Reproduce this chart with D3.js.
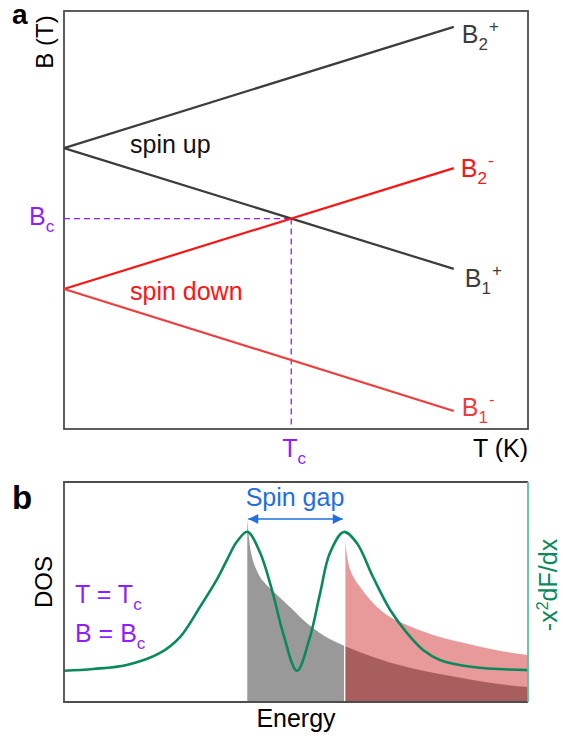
<!DOCTYPE html>
<meta charset="utf-8">
<head>
<title>spin gap</title>
<script src="https://d3js.org/d3.v7.min.js"></script>
<style>
  body { margin: 0; background: #fff; }
  text { font-family: "Liberation Sans", Arial, sans-serif; }
</style>
</head>

<div id="chart"></div>

<script>
  // ---- panel a : B(T) lines (arbitrary units) ----
  var tEnds   = [0, 8.4];
  var b2plus  = [6.72, 9.62];
  var b1plus  = [6.72, 3.83];
  var b2minus = [3.35, 6.24];
  var b1minus = [3.35, 0.43];

  // ---- panel b : DOS + thermal kernel (arbitrary units) ----
  var gapEdges = [-1.05, 1.05];
  var greenE = [-5, -4.37, -3.65, -2.93, -2.5, -2.07, -1.71, -1.49, -1.28, -1.05, -0.78, -0.5, -0.28, 0.02, 0.3, 0.52, 0.73, 1.03, 1.31, 1.66, 2.03, 2.39, 2.74, 3.1, 3.81, 5];
  var greenV = [0.142, 0.15, 0.168, 0.223, 0.295, 0.432, 0.555, 0.645, 0.727, 0.774, 0.682, 0.495, 0.314, 0.142, 0.295, 0.495, 0.677, 0.773, 0.723, 0.568, 0.418, 0.314, 0.236, 0.191, 0.159, 0.145];
  var grayE = [-1.05, -1.0, -0.93, -0.85, -0.78, -0.65, -0.5, -0.13, 0.23, 0.58, 1.05, 1.66, 2.39, 3.1, 3.81, 4.55, 5];
  var grayV = [0.83, 0.72, 0.645, 0.6, 0.57, 0.535, 0.505, 0.432, 0.359, 0.305, 0.255, 0.205, 0.159, 0.127, 0.1, 0.077, 0.068];
  var pinkE = [1.05, 1.12, 1.18, 1.26, 1.39, 1.66, 2.03, 2.39, 3.1, 3.81, 4.54, 5];
  var pinkV = [0.745, 0.64, 0.595, 0.56, 0.52, 0.45, 0.386, 0.35, 0.295, 0.259, 0.227, 0.214];

  var purple = "#8f1fff";
  var red = "#ff1414";
  var dark = "#3d3d3d";

  var svg = d3.select("#chart")
    .append("svg")
      .attr("width", 563)
      .attr("height", 740);

  // sub / superscript label helper
  function addLabel(g, x, y, base, sub, sup, color, anchor) {
    var t = g.append("text")
      .attr("x", x)
      .attr("y", y)
      .attr("text-anchor", anchor || "start")
      .style("font-size", "25px")
      .style("fill", color);
    t.append("tspan").text(base);
    if (sub) t.append("tspan").attr("dy", 7).style("font-size", "17px").text(sub);
    if (sup) t.append("tspan").attr("dy", sub ? -18 : -11).attr("dx", 1).style("font-size", "17px").text(sup);
    return t;
  }

  // ================= panel a =================
  var xa = d3.scaleLinear().domain([0, 10]).range([64, 528]);
  var ya = d3.scaleLinear().domain([0, 10]).range([429, 11]);

  var ga = svg.append("g");

  // frame
  ga.append("rect")
    .attr("x", xa(0)).attr("y", ya(10))
    .attr("width", xa(10) - xa(0)).attr("height", ya(0) - ya(10))
    .style("fill", "none").style("stroke", "#4d4d4d").style("stroke-width", 1.8);

  // crossing of B1+ and B2-  -> (Tc, Bc)
  var s1 = (b1plus[1] - b1plus[0]) / (tEnds[1] - tEnds[0]);
  var s2 = (b2minus[1] - b2minus[0]) / (tEnds[1] - tEnds[0]);
  var Tc = (b2minus[0] - b1plus[0]) / (s1 - s2);
  var Bc = b1plus[0] + s1 * Tc;

  // dashed guides
  ga.append("line")
    .attr("x1", xa(0)).attr("x2", xa(Tc))
    .attr("y1", ya(Bc)).attr("y2", ya(Bc))
    .style("stroke", purple).style("stroke-width", 1.3).style("stroke-dasharray", "6,4");
  ga.append("line")
    .attr("x1", xa(Tc)).attr("x2", xa(Tc))
    .attr("y1", ya(Bc)).attr("y2", ya(0))
    .style("stroke", purple).style("stroke-width", 1.3).style("stroke-dasharray", "6,4");

  var series = [
    {vals: b2plus,  color: dark,      sub: "2", sup: "+", dy: 16, dx: 8},
    {vals: b1plus,  color: dark,      sub: "1", sup: "+", dy: 18, dx: 11},
    {vals: b2minus, color: red,       sub: "2", sup: "-", dy: 9,  dx: 7},
    {vals: b1minus, color: "#f23c3c", sub: "1", sup: "-", dy: 5,  dx: 8}
  ];

  var line = d3.line()
    .x(function(d) { return xa(d[0]); })
    .y(function(d) { return ya(d[1]); });

  series.forEach(function(s) {
    var pts = tEnds.map(function(t, i) { return [t, s.vals[i]]; });
    ga.append("path")
      .attr("d", line(pts))
      .style("fill", "none")
      .style("stroke", s.color)
      .style("stroke-width", 2.2);
    addLabel(ga, xa(tEnds[1]) + s.dx, ya(s.vals[1]) + s.dy, "B", s.sub, s.sup, s.color);
  });

  // texts panel a
  ga.append("text").attr("x", 12).attr("y", 24)
    .style("font-size", "28px").style("font-weight", "bold").text("a");
  ga.append("text")
    .attr("transform", "translate(53,42) rotate(-90)")
    .attr("text-anchor", "middle")
    .style("font-size", "24px").text("B (T)");
  ga.append("text").attr("x", 130).attr("y", 153)
    .style("font-size", "25px").style("fill", "#111").text("spin up");
  ga.append("text").attr("x", 130).attr("y", 300)
    .style("font-size", "25px").style("fill", red).text("spin down");
  addLabel(ga, 29, 225, "B", "c", null, purple);
  addLabel(ga, xa(Tc) - 9, 457, "T", "c", null, purple);
  ga.append("text").attr("x", 528).attr("y", 457)
    .attr("text-anchor", "end")
    .style("font-size", "25px").text("T (K)");

  // ================= panel b =================
  var xb = d3.scaleLinear().domain([-5, 5]).range([64, 528]);
  var yb = d3.scaleLinear().domain([0, 1]).range([702, 482]);

  var gb = svg.append("g");

  gb.append("clipPath").attr("id", "clipb")
    .append("rect")
      .attr("x", xb(-5)).attr("y", yb(1))
      .attr("width", xb(5) - xb(-5)).attr("height", yb(0) - yb(1));

  var plot = gb.append("g").attr("clip-path", "url(#clipb)");

  var area = d3.area()
    .x(function(d) { return xb(d.e); })
    .y0(yb(0))
    .y1(function(d) { return yb(d.v); })
    .curve(d3.curveMonotoneX);

  var gray = grayE.map(function(e, i) { return {e: e, v: grayV[i]}; });
  var pink = pinkE.map(function(e, i) { return {e: e, v: pinkV[i]}; });
  var green = greenE.map(function(e, i) { return {e: e, v: greenV[i]}; });

  plot.append("path").attr("d", area(gray)).style("fill", "#999999");
  plot.append("path").attr("d", area(pink)).style("fill", "#e89a9a");
  plot.append("path")
    .attr("d", area(gray.filter(function(d) { return d.e >= gapEdges[1]; })))
    .style("fill", "#a95e5e");

  // thin seams at the gap edges
  plot.append("line")
    .attr("x1", xb(gapEdges[1])).attr("x2", xb(gapEdges[1]))
    .attr("y1", yb(0)).attr("y2", yb(pinkV[0]))
    .style("stroke", "#fff").style("stroke-width", 1.3);
  plot.append("line")
    .attr("x1", xb(gapEdges[0])).attr("x2", xb(gapEdges[0]))
    .attr("y1", yb(grayV[0])).attr("y2", 519)
    .style("stroke", "#d0d0d0").style("stroke-width", 1.2);

  plot.append("path")
    .attr("d", d3.line()
      .x(function(d) { return xb(d.e); })
      .y(function(d) { return yb(d.v); })
      .curve(d3.curveCatmullRom.alpha(0.5))(green))
    .style("fill", "none")
    .style("stroke", "#0a8a5c")
    .style("stroke-width", 2.6);

  // frame (right side in green)
  gb.append("path")
    .attr("d", "M" + xb(5) + "," + yb(1) + "H" + xb(-5) + "V" + yb(0) + "H" + xb(5))
    .style("fill", "none").style("stroke", "#4d4d4d").style("stroke-width", 1.8);
  gb.append("line")
    .attr("x1", xb(5)).attr("x2", xb(5)).attr("y1", yb(1)).attr("y2", yb(0))
    .style("stroke", "#5cbf9c").style("stroke-width", 1.8);

  // spin gap arrow
  var blue = "#1f6fe0";
  var defs = svg.append("defs");
  defs.append("marker")
    .attr("id", "arr")
    .attr("viewBox", "0 0 10 10")
    .attr("refX", 10).attr("refY", 5)
    .attr("markerUnits", "userSpaceOnUse")
    .attr("markerWidth", 13).attr("markerHeight", 10)
    .attr("orient", "auto-start-reverse")
    .append("path").attr("d", "M0,0L10,5L0,10z").style("fill", blue);
  gb.append("line")
    .attr("x1", xb(gapEdges[0]) + 1).attr("x2", xb(gapEdges[1]) - 2)
    .attr("y1", 519).attr("y2", 519)
    .style("stroke", blue).style("stroke-width", 1.6)
    .attr("marker-start", "url(#arr)").attr("marker-end", "url(#arr)");
  gb.append("text")
    .attr("x", (xb(gapEdges[0]) + xb(gapEdges[1])) / 2 - 1).attr("y", 506)
    .attr("text-anchor", "middle")
    .style("font-size", "25px").style("fill", blue).text("Spin gap");

  // texts panel b
  gb.append("text").attr("x", 12).attr("y", 509)
    .style("font-size", "33px").style("font-weight", "bold").text("b");
  gb.append("text")
    .attr("transform", "translate(52,582) rotate(-90)")
    .attr("text-anchor", "middle")
    .style("font-size", "24px").text("DOS");
  var rt = gb.append("text")
    .attr("transform", "translate(557,585) rotate(-90)")
    .attr("text-anchor", "middle")
    .style("font-size", "25px").style("fill", "#0a8a5c");
  rt.append("tspan").text("-x");
  rt.append("tspan").attr("dy", -9).style("font-size", "16px").text("2");
  rt.append("tspan").attr("dy", 9).text("dF/dx");
  addLabel(gb, 75, 603, "T = T", "c", null, purple);
  addLabel(gb, 75, 642, "B = B", "c", null, purple);
  gb.append("text").attr("x", xb(0)).attr("y", 727)
    .attr("text-anchor", "middle")
    .style("font-size", "25px").text("Energy");
</script>
